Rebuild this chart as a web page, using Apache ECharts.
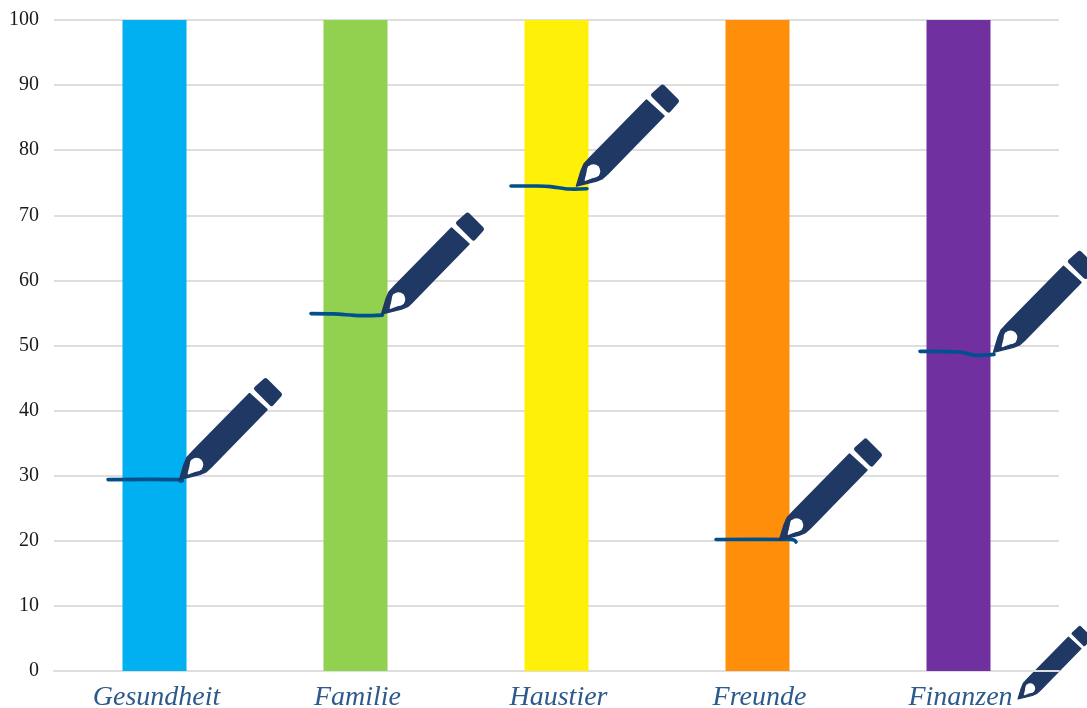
<!DOCTYPE html>
<html>
<head>
<meta charset="utf-8">
<style>html,body{margin:0;padding:0;background:#fff}#chart{width:1087px;height:708px}</style>
<script src="https://cdn.jsdelivr.net/npm/echarts@6/dist/echarts.min.js"></script>
</head>
<body>
<div id="chart"></div>
<script>
// Life-area ratings: each column runs the full scale, a pen marks the rating.
const categories = ['Gesundheit', 'Familie', 'Haustier', 'Freunde', 'Finanzen'];
const scaleTop = [100, 100, 100, 100, 100];
const ratings = [29.4, 54.9, 74.5, 20.2, 49.1];
const yTicks = [0, 10, 20, 30, 40, 50, 60, 70, 80, 90, 100];
const barColors = ['#00b0f0', '#92d050', '#fff00a', '#ff8f0a', '#7030a0'];

// Freehand stroke for each rating: [px from column centre, px below the rating].
const strokeShapes = [
  [[-46.5, 0], [24, 0], [26, 1.5], [28, 1]],
  [[-44.5, 0], [-22, 0.3], [5, 2], [27, 1.5]],
  [[-45.5, 0], [-19, 0], [-6, 0.6], [13, 3], [30.5, 2.7]],
  [[-41.5, 0], [34, 0], [37, 0.8], [38.5, 2.5]],
  [[-38.5, 0], [1.5, 0.7], [17, 4], [35.5, 3]]
];
// Where each pen tip rests against its stroke, in the same px terms.
const tipOffsets = [[25, 0], [26, 0.5], [20, 0], [22, 0.5], [35, 1]];

const penColor = '#1f3864';
const inkColor = '#00508c';

// Pen outline in local px, with the writing tip at the origin.
function penParts() {
  return [
    { type: 'polygon',
      shape: { points: [[0, 0], [4.5, -15], [7.5, -22], [14, -29], [70, -86], [87.5, -70], [31, -12], [26, -7.5], [20, -5]] },
      style: { fill: penColor, stroke: penColor, lineWidth: 1.5, lineJoin: 'round' } },
    { type: 'polygon', shape: { points: [[77, -91], [86, -99], [100, -85], [92, -76]] },
      style: { fill: penColor, stroke: penColor, lineWidth: 5, lineJoin: 'round' } },
    { type: 'polygon', shape: { points: [[8.5, -5.5], [12, -19.4], [22, -10.6]] },
      style: { fill: '#fff', stroke: '#fff', lineWidth: 1, lineJoin: 'round' } },
    { type: 'circle', shape: { cx: 17, cy: -15, r: 6.8 }, style: { fill: '#fff' } }
  ];
}

const chart = echarts.init(document.getElementById('chart'), null, { renderer: 'canvas' });

chart.setOption({
  animation: false,
  backgroundColor: '#fff',
  grid: { left: 54, right: 28, top: 20, bottom: 37, containLabel: false, outerBoundsMode: 'none' },
  xAxis: {
    type: 'category',
    data: categories,
    axisLine: { lineStyle: { color: '#dedede', width: 2 } },
    axisTick: { show: false },
    axisLabel: {
      margin: 13,
      padding: [0, 0, 0, 4],
      fontFamily: '"Liberation Serif"',
      fontStyle: 'italic',
      fontSize: 28,
      color: '#2c5a8c'
    }
  },
  yAxis: {
    type: 'value',
    min: yTicks[0],
    max: yTicks[yTicks.length - 1],
    interval: yTicks[1] - yTicks[0],
    axisLine: { show: false },
    axisTick: { show: false },
    axisLabel: {
      margin: 15,
      padding: [6, 0, 0, 0],
      fontFamily: '"Liberation Serif"',
      fontSize: 20,
      color: '#1a1a1a'
    },
    splitLine: { lineStyle: { color: '#dedede', width: 2 } }
  },
  series: [
    {
      type: 'bar',
      barWidth: 64,
      z: 3,
      data: scaleTop.map((v, i) => ({ value: v, itemStyle: { color: barColors[i] } }))
    },
    {
      type: 'custom',
      z: 5,
      clip: false,
      encode: { x: 0, y: 1 },
      data: ratings.map((v, i) => [i, v]),
      renderItem(params, api) {
        const i = api.value(0);
        const [cx, cy] = api.coord([i, api.value(1)]);
        const [tipX, tipY] = tipOffsets[i];
        return {
          type: 'group',
          children: [
            { type: 'polyline',
              shape: { points: strokeShapes[i].map(([dx, dy]) => [cx + dx, cy + dy]), smooth: 0.3 },
              style: { fill: 'none', stroke: inkColor, lineWidth: 3.6, lineCap: 'round', lineJoin: 'round' } },
            { type: 'group', x: cx + tipX, y: cy + tipY, children: penParts() }
          ]
        };
      }
    }
  ],
  // Smaller loose pen beside the last axis label.
  graphic: [
    { type: 'group', x: 1018, y: 699, scaleX: 0.72, scaleY: 0.72, z: 6, children: penParts() }
  ]
});
</script>
</body>
</html>
